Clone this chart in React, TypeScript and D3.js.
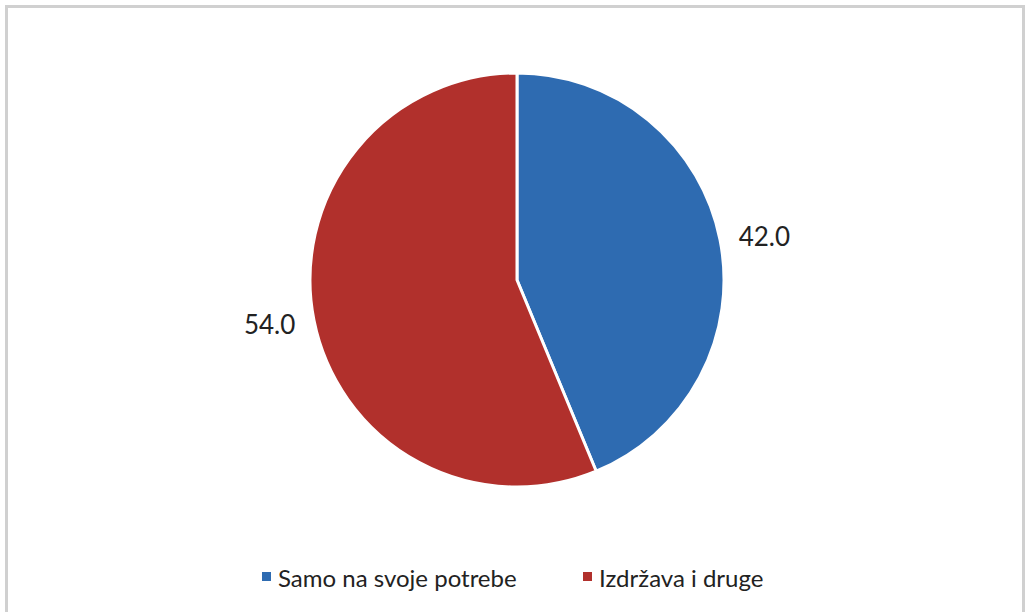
import React from "react";
import * as d3 from "d3";

const categories = ["Samo na svoje potrebe", "Izdržava i druge"];
const values = [42.0, 54.0];
const colors = ["#2e6bb1", "#b1302c"];

const W = 1026;
const H = 612;
const cx = 517;
const cy = 280;
const R = 207;
const labelR = 226;
const FONT = "Lato, 'Open Sans', sans-serif";

export default function App() {
  const data = categories.map((c, i) => ({ name: c, value: values[i], color: colors[i] }));
  const pie = d3.pie<any>().sort(null).value((d: any) => d.value);
  const arcs = pie(data);
  const arc = d3.arc<any>().innerRadius(0).outerRadius(R);

  const legendX = [262, 583];

  return (
    <svg
      width={W}
      height={H}
      style={{ position: "absolute", left: 0, top: 0, background: "#fff" }}
    >
      <rect x={6.5} y={6.5} width={1017} height={620} fill="#fff" stroke="#d0d0d0" strokeWidth={3} />
      <g transform={`translate(${cx},${cy})`}>
        {arcs.map((a, i) => (
          <path key={i} d={arc(a) || ""} fill={a.data.color} stroke="#fff" strokeWidth={3} strokeLinejoin="round" />
        ))}
        {arcs.map((a, i) => {
          const mid = (a.startAngle + a.endAngle) / 2;
          const x = Math.sin(mid) * labelR;
          const y = -Math.cos(mid) * labelR;
          return (
            <text
              key={"l" + i}
              x={x}
              y={y}
              textAnchor={x >= 0 ? "start" : "end"}
              dominantBaseline="central"
              fontFamily={FONT}
              fontSize={26}
              fill="#222"
            >
              {a.data.value.toFixed(1)}
            </text>
          );
        })}
      </g>
      {data.map((d, i) => (
        <g key={"lg" + i}>
          <rect x={legendX[i]} y={572} width={9} height={9} fill={d.color} />
          <text
            x={legendX[i] + 16}
            y={577}
            dominantBaseline="central"
            fontFamily={FONT}
            fontSize={24}
            fill="#222"
          >
            {d.name}
          </text>
        </g>
      ))}
    </svg>
  );
}
